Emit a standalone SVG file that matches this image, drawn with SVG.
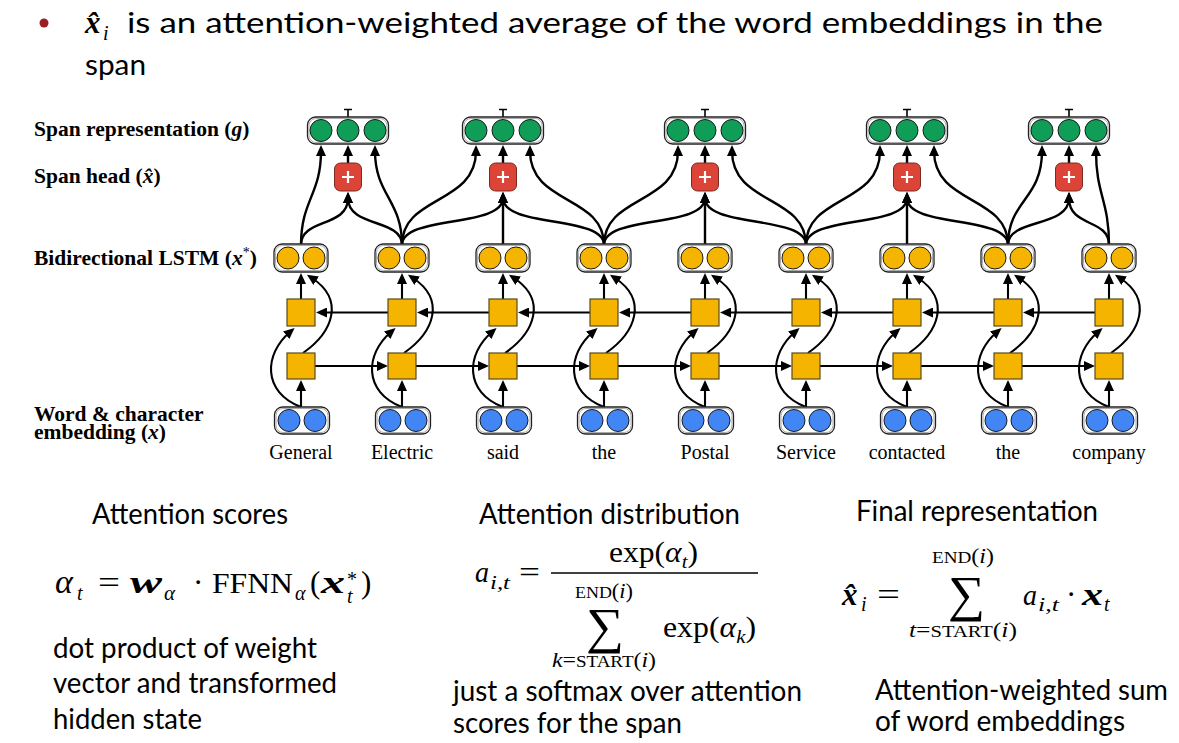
<svg xmlns="http://www.w3.org/2000/svg" width="1179" height="743" viewBox="0 0 1179 743">
<defs>
<marker id="ah" viewBox="0 0 11 10" refX="5" refY="5" markerWidth="11" markerHeight="10" markerUnits="userSpaceOnUse" orient="auto"><path d="M0,0 L11,5 L0,10 z" fill="#000"/></marker>
<style>
.ln{fill:none;stroke:#000;stroke-width:2.4;marker-end:url(#ah)}
.ls{fill:none;stroke:#000;stroke-width:2.1;marker-end:url(#ah)}
.box{fill:#fff;stroke:#222;stroke-width:1.3}
.inn{fill:none;stroke:#aaa;stroke-width:1}
.g{fill:#0f9d58;stroke:#1a1a1a;stroke-width:1}
.y{fill:#f4b400;stroke:#1a1a1a;stroke-width:1}
.b{fill:#4285f4;stroke:#1a1a1a;stroke-width:1}
.sq{fill:#f4b400;stroke:#5a4a1a;stroke-width:1.2}
.rb{fill:#db4437;stroke:#7a2a20;stroke-width:1}
.wh{stroke:#fff;stroke-width:2.2}
.tk{stroke:#000;stroke-width:1.6;fill:none}
.lab{font-family:'Liberation Serif',serif;font-weight:bold;font-size:21.5px}
.wd{font-family:'Liberation Serif',serif;font-size:20px;text-anchor:middle}
.cal{font-family:Lato,'Open Sans',sans-serif;font-size:28px}
.m{font-family:'Liberation Serif',serif}
.it{font-style:italic}
.bi{font-style:italic;font-weight:bold}
</style>
</defs>
<rect width="1179" height="743" fill="#fff"/>

<!-- title -->
<g id="title">
<circle cx="44" cy="23" r="4.5" fill="#9c1f24"/>
<text class="m bi" x="85" y="33" font-size="31">x̂</text>
<text class="m it" x="103" y="40" font-size="20">i</text>
<text class="cal" x="127" y="33" font-size="32" textLength="976" lengthAdjust="spacingAndGlyphs">is an attention-weighted average of the word embeddings in the</text>
<text class="cal" x="85" y="75" font-size="32" textLength="61" lengthAdjust="spacingAndGlyphs">span</text>
</g>

<!-- layer labels -->
<g id="labels">
<text class="lab" x="34" y="136">Span representation (<tspan class="it">g</tspan>)</text>
<text class="lab" x="34" y="183">Span head (<tspan class="it">x̂</tspan>)</text>
<text class="lab" x="34" y="265">Bidirectional LSTM (<tspan class="it">x</tspan><tspan font-size="14" dy="-8" font-weight="normal">*</tspan><tspan dy="8">)</tspan></text>
<text class="lab" x="34" y="421">Word &amp; character</text>
<text class="lab" x="34" y="439">embedding (<tspan class="it">x</tspan>)</text>
</g>

<!-- connectors -->
<g id="connectors">
<!-- embedding -> forward cell -->
<path class="ls" d="M301,407 L301,386"/><path class="ls" d="M402,407 L402,386"/><path class="ls" d="M503,407 L503,386"/>
<path class="ls" d="M604,407 L604,386"/><path class="ls" d="M705,407 L705,386"/><path class="ls" d="M806,407 L806,386"/>
<path class="ls" d="M907,407 L907,386"/><path class="ls" d="M1008,407 L1008,386"/><path class="ls" d="M1109,407 L1109,386"/>
<!-- embedding -> backward cell -->
<path class="ls" d="M301,407 C262,392 264,354 290,332"/><path class="ls" d="M402,407 C363,392 365,354 391,332"/>
<path class="ls" d="M503,407 C464,392 466,354 492,332"/><path class="ls" d="M604,407 C565,392 567,354 593,332"/>
<path class="ls" d="M705,407 C666,392 668,354 694,332"/><path class="ls" d="M806,407 C767,392 769,354 795,332"/>
<path class="ls" d="M907,407 C868,392 870,354 896,332"/><path class="ls" d="M1008,407 C969,392 971,354 997,332"/>
<path class="ls" d="M1109,407 C1070,392 1072,354 1098,332"/>
<!-- forward cell -> output -->
<path class="ls" d="M303,353 C333,332 345,300 312,278"/><path class="ls" d="M404,353 C434,332 446,300 413,278"/>
<path class="ls" d="M505,353 C535,332 547,300 514,278"/><path class="ls" d="M606,353 C636,332 648,300 615,278"/>
<path class="ls" d="M707,353 C737,332 749,300 716,278"/><path class="ls" d="M808,353 C838,332 850,300 817,278"/>
<path class="ls" d="M909,353 C939,332 951,300 918,278"/><path class="ls" d="M1010,353 C1040,332 1052,300 1019,278"/>
<path class="ls" d="M1111,353 C1141,332 1153,300 1120,278"/>
<!-- backward cell -> output -->
<path class="ls" d="M301,299 L301,279"/><path class="ls" d="M402,299 L402,279"/><path class="ls" d="M503,299 L503,279"/>
<path class="ls" d="M604,299 L604,279"/><path class="ls" d="M705,299 L705,279"/><path class="ls" d="M806,299 L806,279"/>
<path class="ls" d="M907,299 L907,279"/><path class="ls" d="M1008,299 L1008,279"/><path class="ls" d="M1109,299 L1109,279"/>
<!-- forward recurrence -->
<path class="ls" d="M315,366 L382,366"/><path class="ls" d="M416,366 L483,366"/><path class="ls" d="M517,366 L584,366"/>
<path class="ls" d="M618,366 L685,366"/><path class="ls" d="M719,366 L786,366"/><path class="ls" d="M820,366 L887,366"/>
<path class="ls" d="M921,366 L988,366"/><path class="ls" d="M1022,366 L1089,366"/>
<!-- backward recurrence -->
<path class="ls" d="M388,312.5 L322,312.5"/><path class="ls" d="M489,312.5 L423,312.5"/><path class="ls" d="M590,312.5 L524,312.5"/>
<path class="ls" d="M691,312.5 L625,312.5"/><path class="ls" d="M792,312.5 L726,312.5"/><path class="ls" d="M893,312.5 L827,312.5"/>
<path class="ls" d="M994,312.5 L928,312.5"/><path class="ls" d="M1095,312.5 L1029,312.5"/>
<!-- to span representation -->
<path class="ln" d="M301,245 C301,200 321,195 321,151"/>
<path class="ln" d="M402,245 C402,200 375,195 375,151"/>
<path class="ln" d="M402,245 C402,195 476,205 476,151"/>
<path class="ln" d="M604,245 C604,195 530,205 530,151"/>
<path class="ln" d="M604,245 C604,195 678,205 678,151"/>
<path class="ln" d="M806,245 C806,195 732,205 732,151"/>
<path class="ln" d="M806,245 C806,195 880,205 880,151"/>
<path class="ln" d="M1008,245 C1008,195 934,205 934,151"/>
<path class="ln" d="M1008,245 C1008,200 1042,200 1042,151"/>
<path class="ln" d="M1109,245 C1109,200 1096,195 1096,151"/>
<!-- to span heads -->
<path class="ln" d="M301,245 C301,218 348,228 348,198"/>
<path class="ln" d="M402,245 C402,218 348,228 348,198"/>
<path class="ln" d="M402,245 C402,215 503,228 503,198"/>
<path class="ln" d="M503,245 L503,198"/>
<path class="ln" d="M604,245 C604,215 503,228 503,198"/>
<path class="ln" d="M604,245 C604,215 705,228 705,198"/>
<path class="ln" d="M705,245 L705,198"/>
<path class="ln" d="M806,245 C806,215 705,228 705,198"/>
<path class="ln" d="M806,245 C806,215 907,228 907,198"/>
<path class="ln" d="M907,245 L907,198"/>
<path class="ln" d="M1008,245 C1008,215 907,228 907,198"/>
<path class="ln" d="M1008,245 C1008,218 1069,228 1069,198"/>
<path class="ln" d="M1109,245 C1109,218 1069,228 1069,198"/>
<!-- head to representation -->
<path class="ln" d="M348,163 L348,151"/><path class="ln" d="M503,163 L503,151"/><path class="ln" d="M705,163 L705,151"/>
<path class="ln" d="M907,163 L907,151"/><path class="ln" d="M1069,163 L1069,151"/>
<!-- output ticks -->
<path class="tk" d="M348,117 L348,109.5 M344,109.5 L352,109.5 M503,117 L503,109.5 M499,109.5 L507,109.5 M705,117 L705,109.5 M701,109.5 L709,109.5 M907,117 L907,109.5 M903,109.5 L911,109.5 M1069,117 L1069,109.5 M1065,109.5 L1073,109.5"/>
</g>

<!-- span representation nodes -->
<g id="g1"><rect class="box" x="307.5" y="117" width="81" height="27" rx="8"/><rect class="inn" x="309" y="118.5" width="78" height="24" rx="7"/><circle class="g" cx="321" cy="130.5" r="11"/><circle class="g" cx="348" cy="130.5" r="11"/><circle class="g" cx="375" cy="130.5" r="11"/></g>
<g id="g2"><rect class="box" x="462.5" y="117" width="81" height="27" rx="8"/><rect class="inn" x="464" y="118.5" width="78" height="24" rx="7"/><circle class="g" cx="476" cy="130.5" r="11"/><circle class="g" cx="503" cy="130.5" r="11"/><circle class="g" cx="530" cy="130.5" r="11"/></g>
<g id="g3"><rect class="box" x="664.5" y="117" width="81" height="27" rx="8"/><rect class="inn" x="666" y="118.5" width="78" height="24" rx="7"/><circle class="g" cx="678" cy="130.5" r="11"/><circle class="g" cx="705" cy="130.5" r="11"/><circle class="g" cx="732" cy="130.5" r="11"/></g>
<g id="g4"><rect class="box" x="866.5" y="117" width="81" height="27" rx="8"/><rect class="inn" x="868" y="118.5" width="78" height="24" rx="7"/><circle class="g" cx="880" cy="130.5" r="11"/><circle class="g" cx="907" cy="130.5" r="11"/><circle class="g" cx="934" cy="130.5" r="11"/></g>
<g id="g5"><rect class="box" x="1028.5" y="117" width="81" height="27" rx="8"/><rect class="inn" x="1030" y="118.5" width="78" height="24" rx="7"/><circle class="g" cx="1042" cy="130.5" r="11"/><circle class="g" cx="1069" cy="130.5" r="11"/><circle class="g" cx="1096" cy="130.5" r="11"/></g>

<!-- span heads -->
<g id="p1"><rect class="rb" x="334.5" y="163" width="27" height="28" rx="6"/><path class="wh" d="M342,177 L354,177 M348,171 L348,183"/></g>
<g id="p2"><rect class="rb" x="489.5" y="163" width="27" height="28" rx="6"/><path class="wh" d="M497,177 L509,177 M503,171 L503,183"/></g>
<g id="p3"><rect class="rb" x="691.5" y="163" width="27" height="28" rx="6"/><path class="wh" d="M699,177 L711,177 M705,171 L705,183"/></g>
<g id="p4"><rect class="rb" x="893.5" y="163" width="27" height="28" rx="6"/><path class="wh" d="M901,177 L913,177 M907,171 L907,183"/></g>
<g id="p5"><rect class="rb" x="1055.5" y="163" width="27" height="28" rx="6"/><path class="wh" d="M1063,177 L1075,177 M1069,171 L1069,183"/></g>

<!-- BiLSTM outputs -->
<g id="h0"><rect class="box" x="274" y="244" width="54" height="28" rx="8"/><rect class="inn" x="275.5" y="245.5" width="51" height="25" rx="7"/><circle class="y" cx="288" cy="258" r="11"/><circle class="y" cx="314" cy="258" r="11"/></g>
<g id="h1"><rect class="box" x="375" y="244" width="54" height="28" rx="8"/><rect class="inn" x="376.5" y="245.5" width="51" height="25" rx="7"/><circle class="y" cx="389" cy="258" r="11"/><circle class="y" cx="415" cy="258" r="11"/></g>
<g id="h2"><rect class="box" x="476" y="244" width="54" height="28" rx="8"/><rect class="inn" x="477.5" y="245.5" width="51" height="25" rx="7"/><circle class="y" cx="490" cy="258" r="11"/><circle class="y" cx="516" cy="258" r="11"/></g>
<g id="h3"><rect class="box" x="577" y="244" width="54" height="28" rx="8"/><rect class="inn" x="578.5" y="245.5" width="51" height="25" rx="7"/><circle class="y" cx="591" cy="258" r="11"/><circle class="y" cx="617" cy="258" r="11"/></g>
<g id="h4"><rect class="box" x="678" y="244" width="54" height="28" rx="8"/><rect class="inn" x="679.5" y="245.5" width="51" height="25" rx="7"/><circle class="y" cx="692" cy="258" r="11"/><circle class="y" cx="718" cy="258" r="11"/></g>
<g id="h5"><rect class="box" x="779" y="244" width="54" height="28" rx="8"/><rect class="inn" x="780.5" y="245.5" width="51" height="25" rx="7"/><circle class="y" cx="793" cy="258" r="11"/><circle class="y" cx="819" cy="258" r="11"/></g>
<g id="h6"><rect class="box" x="880" y="244" width="54" height="28" rx="8"/><rect class="inn" x="881.5" y="245.5" width="51" height="25" rx="7"/><circle class="y" cx="894" cy="258" r="11"/><circle class="y" cx="920" cy="258" r="11"/></g>
<g id="h7"><rect class="box" x="981" y="244" width="54" height="28" rx="8"/><rect class="inn" x="982.5" y="245.5" width="51" height="25" rx="7"/><circle class="y" cx="995" cy="258" r="11"/><circle class="y" cx="1021" cy="258" r="11"/></g>
<g id="h8"><rect class="box" x="1082" y="244" width="54" height="28" rx="8"/><rect class="inn" x="1083.5" y="245.5" width="51" height="25" rx="7"/><circle class="y" cx="1096" cy="258" r="11"/><circle class="y" cx="1122" cy="258" r="11"/></g>

<!-- LSTM cells -->
<g id="bw0"><rect class="sq" x="287" y="299" width="28" height="27"/></g>
<g id="bw1"><rect class="sq" x="388" y="299" width="28" height="27"/></g>
<g id="bw2"><rect class="sq" x="489" y="299" width="28" height="27"/></g>
<g id="bw3"><rect class="sq" x="590" y="299" width="28" height="27"/></g>
<g id="bw4"><rect class="sq" x="691" y="299" width="28" height="27"/></g>
<g id="bw5"><rect class="sq" x="792" y="299" width="28" height="27"/></g>
<g id="bw6"><rect class="sq" x="893" y="299" width="28" height="27"/></g>
<g id="bw7"><rect class="sq" x="994" y="299" width="28" height="27"/></g>
<g id="bw8"><rect class="sq" x="1095" y="299" width="28" height="27"/></g>
<g id="fw0"><rect class="sq" x="287" y="353" width="28" height="26"/></g>
<g id="fw1"><rect class="sq" x="388" y="353" width="28" height="26"/></g>
<g id="fw2"><rect class="sq" x="489" y="353" width="28" height="26"/></g>
<g id="fw3"><rect class="sq" x="590" y="353" width="28" height="26"/></g>
<g id="fw4"><rect class="sq" x="691" y="353" width="28" height="26"/></g>
<g id="fw5"><rect class="sq" x="792" y="353" width="28" height="26"/></g>
<g id="fw6"><rect class="sq" x="893" y="353" width="28" height="26"/></g>
<g id="fw7"><rect class="sq" x="994" y="353" width="28" height="26"/></g>
<g id="fw8"><rect class="sq" x="1095" y="353" width="28" height="26"/></g>

<!-- word embeddings -->
<g id="w0"><rect class="box" x="274.5" y="407" width="55" height="27" rx="8"/><rect class="inn" x="276" y="408.5" width="52" height="24" rx="7"/><circle class="b" cx="289" cy="420.5" r="11"/><circle class="b" cx="315" cy="420.5" r="11"/><text class="wd" x="301" y="459">General</text></g>
<g id="w1"><rect class="box" x="375.5" y="407" width="55" height="27" rx="8"/><rect class="inn" x="377" y="408.5" width="52" height="24" rx="7"/><circle class="b" cx="390" cy="420.5" r="11"/><circle class="b" cx="416" cy="420.5" r="11"/><text class="wd" x="402" y="459">Electric</text></g>
<g id="w2"><rect class="box" x="476.5" y="407" width="55" height="27" rx="8"/><rect class="inn" x="478" y="408.5" width="52" height="24" rx="7"/><circle class="b" cx="491" cy="420.5" r="11"/><circle class="b" cx="517" cy="420.5" r="11"/><text class="wd" x="503" y="459">said</text></g>
<g id="w3"><rect class="box" x="577.5" y="407" width="55" height="27" rx="8"/><rect class="inn" x="579" y="408.5" width="52" height="24" rx="7"/><circle class="b" cx="592" cy="420.5" r="11"/><circle class="b" cx="618" cy="420.5" r="11"/><text class="wd" x="604" y="459">the</text></g>
<g id="w4"><rect class="box" x="678.5" y="407" width="55" height="27" rx="8"/><rect class="inn" x="680" y="408.5" width="52" height="24" rx="7"/><circle class="b" cx="693" cy="420.5" r="11"/><circle class="b" cx="719" cy="420.5" r="11"/><text class="wd" x="705" y="459">Postal</text></g>
<g id="w5"><rect class="box" x="779.5" y="407" width="55" height="27" rx="8"/><rect class="inn" x="781" y="408.5" width="52" height="24" rx="7"/><circle class="b" cx="794" cy="420.5" r="11"/><circle class="b" cx="820" cy="420.5" r="11"/><text class="wd" x="806" y="459">Service</text></g>
<g id="w6"><rect class="box" x="880.5" y="407" width="55" height="27" rx="8"/><rect class="inn" x="882" y="408.5" width="52" height="24" rx="7"/><circle class="b" cx="895" cy="420.5" r="11"/><circle class="b" cx="921" cy="420.5" r="11"/><text class="wd" x="907" y="459">contacted</text></g>
<g id="w7"><rect class="box" x="981.5" y="407" width="55" height="27" rx="8"/><rect class="inn" x="983" y="408.5" width="52" height="24" rx="7"/><circle class="b" cx="996" cy="420.5" r="11"/><circle class="b" cx="1022" cy="420.5" r="11"/><text class="wd" x="1008" y="459">the</text></g>
<g id="w8"><rect class="box" x="1082.5" y="407" width="55" height="27" rx="8"/><rect class="inn" x="1084" y="408.5" width="52" height="24" rx="7"/><circle class="b" cx="1097" cy="420.5" r="11"/><circle class="b" cx="1123" cy="420.5" r="11"/><text class="wd" x="1109" y="459">company</text></g>

<!-- Attention scores -->
<g id="scores">
<text class="cal" x="92" y="524" textLength="196" lengthAdjust="spacingAndGlyphs">Attention scores</text>
<text class="m it" x="55" y="593" font-size="34">α</text>
<text class="m it" x="77" y="600" font-size="20">t</text>
<text class="m" x="98" y="593" font-size="31" textLength="22" lengthAdjust="spacingAndGlyphs">=</text>
<text class="m bi" x="130" y="593" font-size="31" textLength="32" lengthAdjust="spacingAndGlyphs">w</text>
<text class="m it" x="164" y="600" font-size="21">α</text>
<text class="m" x="193" y="593" font-size="31">·</text>
<text class="m" x="212" y="593" font-size="30" textLength="81" lengthAdjust="spacingAndGlyphs">FFNN</text>
<text class="m it" x="295" y="600" font-size="20">α</text>
<text class="m" x="310" y="593" font-size="31">(</text>
<text class="m bi" x="321" y="593" font-size="31" textLength="24" lengthAdjust="spacingAndGlyphs">x</text>
<text class="m" x="347" y="586" font-size="20">*</text>
<text class="m it" x="347" y="603" font-size="20">t</text>
<text class="m" x="361" y="593" font-size="31">)</text>
<text class="cal" x="53" y="658" textLength="264" lengthAdjust="spacingAndGlyphs">dot product of weight</text>
<text class="cal" x="53" y="693" textLength="284" lengthAdjust="spacingAndGlyphs">vector and transformed</text>
<text class="cal" x="53" y="729" textLength="149" lengthAdjust="spacingAndGlyphs">hidden state</text>
</g>

<!-- Attention distribution -->
<g id="distribution">
<text class="cal" x="479" y="524" textLength="261" lengthAdjust="spacingAndGlyphs">Attention distribution</text>
<text class="m it" x="475" y="582" font-size="29" textLength="14" lengthAdjust="spacingAndGlyphs">a</text>
<text class="m it" x="490" y="589" font-size="19" textLength="20" lengthAdjust="spacingAndGlyphs">i,t</text>
<text class="m" x="519" y="582" font-size="29" textLength="21" lengthAdjust="spacingAndGlyphs">=</text>
<line x1="551" y1="573" x2="758" y2="573" stroke="#000" stroke-width="1.4"/>
<text class="m" x="609" y="562" font-size="29" textLength="89" lengthAdjust="spacingAndGlyphs">exp(<tspan class="it">α</tspan><tspan class="it" font-size="19" dy="6">t</tspan><tspan dy="-6">)</tspan></text>
<text class="m" x="575" y="598" font-size="20" textLength="58" lengthAdjust="spacingAndGlyphs"><tspan font-size="16">END</tspan>(<tspan class="it">i</tspan>)</text>
<text class="m" x="586" y="643" font-size="50" textLength="38" lengthAdjust="spacingAndGlyphs">∑</text>
<text class="m" x="663" y="637" font-size="29" textLength="93" lengthAdjust="spacingAndGlyphs">exp(<tspan class="it">α</tspan><tspan class="it" font-size="19" dy="6">k</tspan><tspan dy="-6">)</tspan></text>
<text class="m" x="552" y="667" font-size="20" textLength="104" lengthAdjust="spacingAndGlyphs"><tspan class="it">k</tspan>=<tspan font-size="16">START</tspan>(<tspan class="it">i</tspan>)</text>
<text class="cal" x="453" y="701" textLength="349" lengthAdjust="spacingAndGlyphs">just a softmax over attention</text>
<text class="cal" x="453" y="733" textLength="229" lengthAdjust="spacingAndGlyphs">scores for the span</text>
</g>

<!-- Final representation -->
<g id="final">
<text class="cal" x="856" y="521" textLength="242" lengthAdjust="spacingAndGlyphs">Final representation</text>
<text class="m" x="932" y="563" font-size="20" textLength="62" lengthAdjust="spacingAndGlyphs"><tspan font-size="16">END</tspan>(<tspan class="it">i</tspan>)</text>
<text class="m" x="948" y="611" font-size="50" textLength="37" lengthAdjust="spacingAndGlyphs">∑</text>
<text class="m bi" x="842" y="605" font-size="31">x̂</text>
<text class="m it" x="861" y="611" font-size="20">i</text>
<text class="m" x="877" y="605" font-size="31" textLength="23" lengthAdjust="spacingAndGlyphs">=</text>
<text class="m it" x="1023" y="605" font-size="29" textLength="14" lengthAdjust="spacingAndGlyphs">a</text>
<text class="m it" x="1038" y="611" font-size="19" textLength="21" lengthAdjust="spacingAndGlyphs">i,t</text>
<text class="m" x="1066" y="605" font-size="31">·</text>
<text class="m bi" x="1082" y="605" font-size="31" textLength="21" lengthAdjust="spacingAndGlyphs">x</text>
<text class="m it" x="1104" y="611" font-size="20">t</text>
<text class="m" x="909" y="637" font-size="20" textLength="108" lengthAdjust="spacingAndGlyphs"><tspan class="it">t</tspan>=<tspan font-size="16">START</tspan>(<tspan class="it">i</tspan>)</text>
<text class="cal" x="875" y="700" textLength="293" lengthAdjust="spacingAndGlyphs">Attention-weighted sum</text>
<text class="cal" x="875" y="731" textLength="250" lengthAdjust="spacingAndGlyphs">of word embeddings</text>
</g>
</svg>
